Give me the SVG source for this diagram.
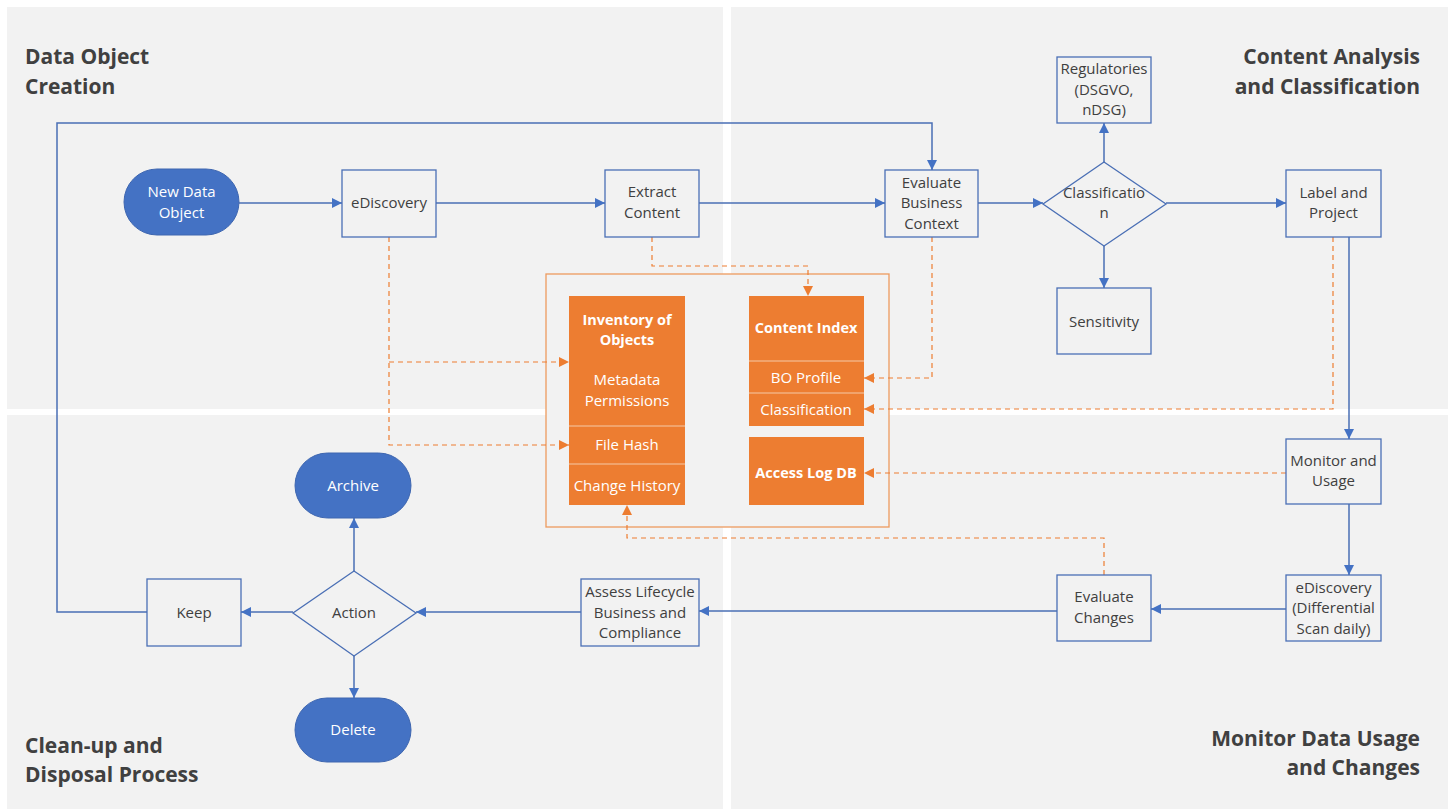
<svg xmlns="http://www.w3.org/2000/svg" width="1451" height="810" viewBox="0 0 1451 810">
<defs>
<style>
.panel{fill:#f2f2f2}
.box{fill:#f2f2f2;stroke:#4a6fb5;stroke-width:1.3}
.pill{fill:#4472c4;stroke:#3e66b0;stroke-width:1}
.ob{fill:#ed7d31}
.div{stroke:#f6c9a8;stroke-width:1.2}
.t{font-family:"Open Sans","Noto Sans",sans-serif;font-size:15px;fill:#404040;text-anchor:middle}
.w{font-family:"Open Sans","Noto Sans",sans-serif;font-size:15px;fill:#ffffff;text-anchor:middle}
.wb{font-family:"Open Sans","Noto Sans",sans-serif;font-size:14.5px;fill:#ffffff;text-anchor:middle;font-weight:bold}
.title{font-family:"Open Sans","Noto Sans",sans-serif;font-size:21px;font-weight:bold;fill:#404040}
.bl{fill:none;stroke:#4a6fb5;stroke-width:1.5}
.od{fill:none;stroke:#ed7d31;stroke-width:1.2;stroke-dasharray:5 4}
</style>
<marker id="ab" viewBox="0 0 10 10" refX="10" refY="5" markerWidth="10" markerHeight="10" markerUnits="userSpaceOnUse" orient="auto"><path d="M0,0 L10,5 L0,10 z" fill="#4472c4"/></marker>
<marker id="ao" viewBox="0 0 10 10" refX="10" refY="5" markerWidth="10" markerHeight="10" markerUnits="userSpaceOnUse" orient="auto"><path d="M0,0 L10,5 L0,10 z" fill="#ed7d31"/></marker>
</defs>
<rect width="1451" height="810" fill="#ffffff"/>
<g id="panels">
<rect class="panel" x="7" y="7" width="716" height="402"/>
<rect class="panel" x="731" y="7" width="717" height="402"/>
<rect class="panel" x="7" y="415" width="716" height="394"/>
<rect class="panel" x="731" y="415" width="717" height="394"/>
</g>
<g id="titles">
<text class="title" x="25" y="64">Data Object</text>
<text class="title" x="25" y="94">Creation</text>
<text class="title" x="1420" y="64" text-anchor="end">Content Analysis</text>
<text class="title" x="1420" y="94" text-anchor="end">and Classification</text>
<text class="title" x="25" y="753">Clean-up and</text>
<text class="title" x="25" y="782">Disposal Process</text>
<text class="title" x="1420" y="746" text-anchor="end">Monitor Data Usage</text>
<text class="title" x="1420" y="775" text-anchor="end">and Changes</text>
</g>
<g id="repository">
<rect x="546" y="274" width="343" height="253" fill="#f2f2f2" stroke="#ed9a5e" stroke-width="1.3"/>
</g>
<g id="inventory">
<rect class="ob" x="569" y="296" width="116" height="209"/>
<line class="div" x1="569" y1="426" x2="685" y2="426"/>
<line class="div" x1="569" y1="464" x2="685" y2="464"/>
<text class="wb" x="627" y="325">Inventory of</text>
<text class="wb" x="627" y="345">Objects</text>
<text class="w" x="627" y="385">Metadata</text>
<text class="w" x="627" y="406">Permissions</text>
<text class="w" x="627" y="450">File Hash</text>
<text class="w" x="627" y="491">Change History</text>
</g>
<g id="content-index">
<rect class="ob" x="749" y="296" width="115" height="130"/>
<line class="div" x1="749" y1="361" x2="864" y2="361"/>
<line class="div" x1="749" y1="393" x2="864" y2="393"/>
<text class="wb" x="806" y="333">Content Index</text>
<text class="w" x="806" y="383">BO Profile</text>
<text class="w" x="806" y="415">Classification</text>
</g>
<g id="access-log">
<rect class="ob" x="749" y="437" width="115" height="68"/>
<text class="wb" x="806" y="478">Access Log DB</text>
</g>
<g id="connectors">
<path class="bl" d="M147,612 H57 V123 H932 V170" marker-end="url(#ab)"/>
<path class="bl" d="M239,203 H342" marker-end="url(#ab)"/>
<path class="bl" d="M436,203 H605" marker-end="url(#ab)"/>
<path class="bl" d="M699,203 H885" marker-end="url(#ab)"/>
<path class="bl" d="M978,203 H1043" marker-end="url(#ab)"/>
<path class="bl" d="M1166,203 H1286" marker-end="url(#ab)"/>
<path class="bl" d="M1104,162 V123" marker-end="url(#ab)"/>
<path class="bl" d="M1104,246 V288" marker-end="url(#ab)"/>
<path class="bl" d="M1349,237 V439" marker-end="url(#ab)"/>
<path class="bl" d="M1349,504 V575" marker-end="url(#ab)"/>
<path class="bl" d="M1286,609 H1151" marker-end="url(#ab)"/>
<path class="bl" d="M1057,611 H699" marker-end="url(#ab)"/>
<path class="bl" d="M581,612 H416" marker-end="url(#ab)"/>
<path class="bl" d="M293,612 H241" marker-end="url(#ab)"/>
<path class="bl" d="M354,571 V518" marker-end="url(#ab)"/>
<path class="bl" d="M354,656 V698" marker-end="url(#ab)"/>
<path class="od" d="M389,237 V445 H569" marker-end="url(#ao)"/>
<path class="od" d="M389,362 H569" marker-end="url(#ao)"/>
<path class="od" d="M652,237 V266 H808 V296" marker-end="url(#ao)"/>
<path class="od" d="M932,237 V378 H864" marker-end="url(#ao)"/>
<path class="od" d="M1333,237 V409 H864" marker-end="url(#ao)"/>
<path class="od" d="M1286,473 H864" marker-end="url(#ao)"/>
<path class="od" d="M1104,575 V538 H627 V505" marker-end="url(#ao)"/>
</g>
<g id="new-data-object">
<rect class="pill" x="124" y="169" width="115" height="66" rx="33"/>
<text class="w" x="181.5" y="197">New Data</text>
<text class="w" x="181.5" y="218">Object</text>
</g>
<g id="ediscovery">
<rect class="box" x="342" y="170" width="94" height="67"/>
<text class="t" x="389" y="208">eDiscovery</text>
</g>
<g id="extract-content">
<rect class="box" x="605" y="170" width="94" height="67"/>
<text class="t" x="652" y="197">Extract</text>
<text class="t" x="652" y="218">Content</text>
</g>
<g id="evaluate-business-context">
<rect class="box" x="885" y="170" width="93" height="67"/>
<text class="t" x="931.5" y="188">Evaluate</text>
<text class="t" x="931.5" y="208">Business</text>
<text class="t" x="931.5" y="229">Context</text>
</g>
<g id="classification">
<polygon class="box" points="1104,162 1166,204 1104,246 1043,204"/>
<text class="t" x="1104" y="198">Classificatio</text>
<text class="t" x="1104" y="218">n</text>
</g>
<g id="regulatories">
<rect class="box" x="1057" y="57" width="94" height="66"/>
<text class="t" x="1104" y="74">Regulatories</text>
<text class="t" x="1104" y="95">(DSGVO,</text>
<text class="t" x="1104" y="115">nDSG)</text>
</g>
<g id="sensitivity">
<rect class="box" x="1057" y="288" width="94" height="66"/>
<text class="t" x="1104" y="327">Sensitivity</text>
</g>
<g id="label-and-project">
<rect class="box" x="1286" y="170" width="95" height="67"/>
<text class="t" x="1333.5" y="198">Label and</text>
<text class="t" x="1333.5" y="218">Project</text>
</g>
<g id="monitor-and-usage">
<rect class="box" x="1286" y="439" width="95" height="65"/>
<text class="t" x="1333.5" y="466">Monitor and</text>
<text class="t" x="1333.5" y="486">Usage</text>
</g>
<g id="ediscovery-differential">
<rect class="box" x="1286" y="575" width="95" height="66"/>
<text class="t" x="1333.5" y="593">eDiscovery</text>
<text class="t" x="1333.5" y="613">(Differential</text>
<text class="t" x="1333.5" y="634">Scan daily)</text>
</g>
<g id="evaluate-changes">
<rect class="box" x="1057" y="575" width="94" height="66"/>
<text class="t" x="1104" y="602">Evaluate</text>
<text class="t" x="1104" y="623">Changes</text>
</g>
<g id="assess-lifecycle">
<rect class="box" x="581" y="579" width="118" height="67"/>
<text class="t" x="640" y="597">Assess Lifecycle</text>
<text class="t" x="640" y="618">Business and</text>
<text class="t" x="640" y="638">Compliance</text>
</g>
<g id="action">
<polygon class="box" points="354,571 416,613 354,656 293,613"/>
<text class="t" x="354" y="618">Action</text>
</g>
<g id="keep">
<rect class="box" x="147" y="579" width="94" height="67"/>
<text class="t" x="194" y="618">Keep</text>
</g>
<g id="archive">
<rect class="pill" x="295" y="453" width="116" height="65" rx="32.5"/>
<text class="w" x="353" y="491">Archive</text>
</g>
<g id="delete">
<rect class="pill" x="295" y="698" width="116" height="64" rx="32"/>
<text class="w" x="353" y="735">Delete</text>
</g>
</svg>
